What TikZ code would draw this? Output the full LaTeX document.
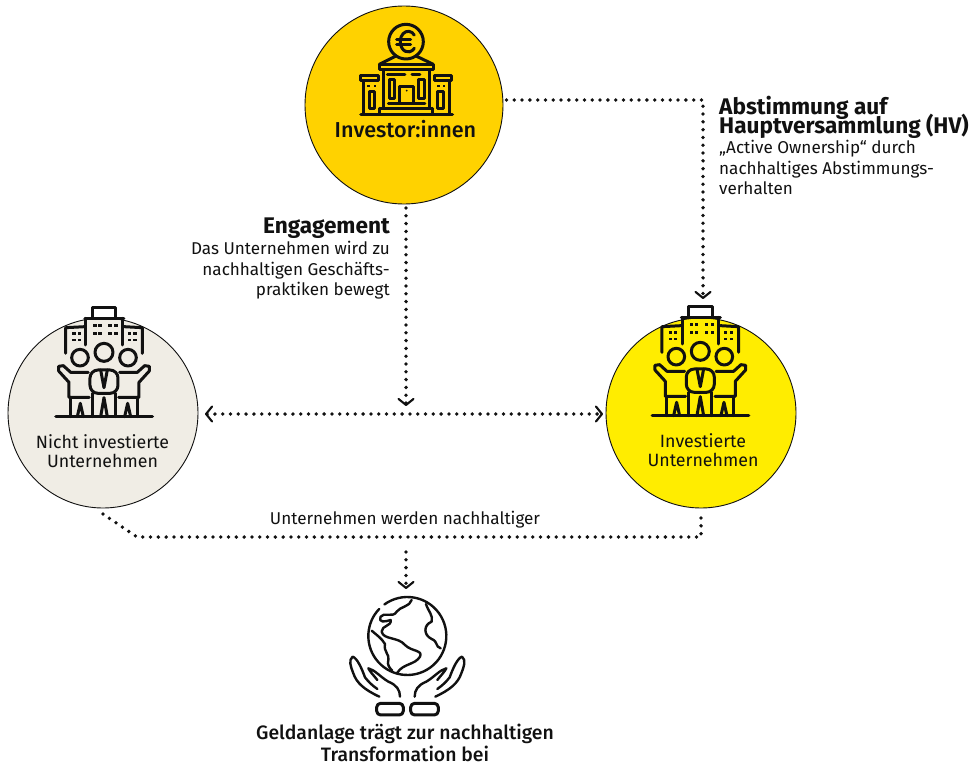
\documentclass[tikz,border=0pt]{standalone}
\usepackage{fontspec}
\setmainfont{Fira Sans}
\newfontfamily\medf{Fira Sans Medium}
\usetikzlibrary{arrows.meta,calc}
\definecolor{gold}{HTML}{FFD200}
\definecolor{lemon}{HTML}{FFED00}
\definecolor{sand}{HTML}{F0EDE5}
\definecolor{ink}{HTML}{111111}
\newcommand{\tightlines}{\setlength{\lineskiplimit}{-20pt}}
\tikzset{
  x=1pt,y=-1pt,
  disc/.style={circle,draw=ink,line width=0.9pt,inner sep=0pt},
  dotline/.style={ink,line width=3.8pt,line cap=round,dash pattern=on 0pt off 7.8pt},
  chev/.style={-{Straight Barb[length=6pt,width=15pt,line width=2.1pt,round]}},
  chevs/.style={{Straight Barb[length=6pt,width=15pt,line width=2.1pt,round]}-{Straight Barb[length=6pt,width=15pt,line width=2.1pt,round]}},
  icon/.style={ink,line width=2.4pt,line cap=round,line join=round},
  iconb/.style={ink,line width=3pt,line cap=round,line join=round},
  lbl/.style={inner sep=0pt,text=ink,font=\fontsize{17.1}{20.5}\selectfont\tightlines},
  head/.style={inner sep=0pt,text=ink,font=\fontsize{22.6}{19}\selectfont\bfseries\tightlines},
  disctext/.style={inner sep=0pt,text=ink,align=center,font=\fontsize{17.8}{19.5}\selectfont\tightlines},
}
\newcommand{\peopleicon}[2]{%
\begin{scope}[shift={(#1,#2)},x=0.3333pt,y=-0.3333pt]
 \draw[iconb] (277,68)--(277,38)--(348,38)--(348,68);
 \draw[iconb] (255,70)--(372,70);
 \draw[iconb] (258,70)--(258,150) (368,70)--(368,150);
 \draw[iconb] (255,95)--(197,98)--(197,175);
 \draw[iconb] (372,95)--(427,98)--(427,175);
 \foreach \a/\b in {285/92,300/92,285/115,300/115,330/92,348/92,330/115,348/115,222/115,238/115,222/135,238/135,388/115,405/115,388/135,405/135}
   \fill[ink] (\a-5,\b-4) rectangle (\a+5,\b+4);
 \draw[iconb] (240,188) circle[radius=25];
 \draw[iconb] (312,172) circle[radius=27];
 \draw[iconb] (384,188) circle[radius=25];
 % side figures
 \draw[iconb] (265,232)--(212,232)--(190,212)--(176,214)--(176,228)--(207,262)--(207,307)--(268,307);
 \draw[iconb] (359,232)--(412,232)--(434,212)--(448,214)--(448,228)--(417,262)--(417,307)--(356,307);
 \draw[iconb] (212,307)--(212,365) (412,307)--(412,365);
 \draw[iconb] (232,365)--(241,325)--(250,365);
 \draw[iconb] (374,365)--(383,325)--(392,365);
 % centre figure
 \draw[iconb,rounded corners=8pt] (270,295) rectangle (354,225);
 \draw[iconb] (302,225)--(312,278)--(322,225);
 \draw[iconb] (278,295)--(278,365) (346,295)--(346,365);
 \draw[iconb] (302,365)--(312,308)--(322,365);
 \draw[ink,line width=3.6pt,line cap=round] (168,365)--(457,365);
\end{scope}}
\begin{document}
\begin{tikzpicture}
\useasboundingbox (0,0) rectangle (973,765);
\fill[white] (0,0) rectangle (973,765);

% discs
\node[disc,fill=gold,minimum size=198pt] (inv) at (404,105) {};
\node[disc,fill=sand,minimum size=190pt] (nicht) at (103,413) {};
\node[disc,fill=lemon,minimum size=190pt] (inves) at (701,413) {};

% bank icon
\begin{scope}[shift={(300,0)},x=0.3333pt,y=-0.3333pt]
 \draw[iconb] (318,125) circle[radius=52];
 \draw[iconb] (343,105) arc[start angle=-40,end angle=-320,x radius=24,y radius=31];
 \draw[iconb] (290,118)--(332,118) (290,134)--(332,134);
 \draw[iconb] (238,193)--(288,168) (348,168)--(400,193);
 \draw[iconb] (238,193) rectangle (402,210);
 \draw[iconb] (250,210)--(250,325) (388,210)--(388,325);
 \draw[iconb] (183,226) rectangle (237,243);
 \draw[iconb] (403,226) rectangle (456,243);
 \draw[iconb] (190,243)--(190,343) (450,243)--(450,343);
 \draw[iconb] (208,275) rectangle (225,325);
 \draw[iconb] (412,275) rectangle (430,325);
 \draw[iconb] (268,240) rectangle (285,295);
 \draw[iconb] (355,240) rectangle (375,295);
 \draw[iconb] (298,310)--(298,260)--(340,260)--(340,310);
 \fill[ink] (320,272) circle[radius=3];
 \draw[iconb] (265,310)--(375,310) (240,325)--(398,325) (240,325)--(240,343) (398,325)--(398,343);
 \draw[iconb] (262,225)--(315,225) (336,225)--(360,225);
 \foreach \a in {205,225,415,432} \fill[ink] (\a-4,254) rectangle (\a+4,262);
 \draw[ink,line width=3.6pt,line cap=round] (183,343)--(457,343);
\end{scope}

\peopleicon{0}{295}
\peopleicon{596.3}{294}

% globe and hands
\begin{scope}[shift={(320,540)},x=0.3333pt,y=-0.3333pt]
 \draw[icon] (262,288) ++(234:117) arc[start angle=234,end angle=584,radius=117];
 \draw[icon] (275,180) .. controls (270,200) and (240,200) .. (230,215) .. controls (220,235) and (190,215) .. (182,230) .. controls (175,250) and (195,245) .. (212,240) .. controls (215,260) and (185,255) .. (185,275) .. controls (190,300) and (235,290) .. (255,315) .. controls (275,335) and (310,330) .. (300,350) .. controls (285,375) and (250,370) .. (232,398);
 \draw[icon] (155,272) .. controls (170,285) and (185,295) .. (195,312) .. controls (190,335) and (210,345) .. (205,360) .. controls (200,375) and (210,385) .. (217,392);
 \draw[icon] (318,192) .. controls (325,215) and (340,225) .. (335,245) .. controls (310,255) and (310,285) .. (335,297) .. controls (355,305) and (345,320) .. (362,325);
 \draw[icon] (178,470) .. controls (135,450) and (110,430) .. (100,400) .. controls (92,380) and (85,360) .. (98,350) .. controls (112,355) and (125,385) .. (135,412) .. controls (145,425) and (155,435) .. (172,447);
 \draw[icon] (172,420) .. controls (160,405) and (150,395) .. (145,385) .. controls (165,390) and (180,410) .. (205,425) .. controls (230,435) and (240,450) .. (240,470);
 \draw[icon] (346,470) .. controls (389,450) and (414,430) .. (424,400) .. controls (432,380) and (439,360) .. (426,350) .. controls (412,355) and (399,385) .. (389,412) .. controls (379,425) and (369,435) .. (352,447);
 \draw[icon] (352,420) .. controls (364,405) and (374,395) .. (379,385) .. controls (359,390) and (344,410) .. (319,425) .. controls (294,435) and (284,450) .. (284,470);
 \draw[iconb,rounded corners=4pt] (170,490) rectangle (250,525);
 \draw[iconb,rounded corners=4pt] (272,490) rectangle (355,525);
\end{scope}

% disc texts
\node[inner sep=0pt,text=ink,font=\medf\fontsize{21.6}{24}\selectfont] (tinv) at (405.5,129) {Investor:innen};
\node[disctext] (tnicht) at (102.5,451) {Nicht investierte\\Unternehmen};
\node[disctext] (tinves) at (703,450) {Investierte\\Unternehmen};

% labels
\node[head,anchor=base east] (eng) at (390,233) {Engagement};
\node[lbl,anchor=north east,align=right] (engtxt) at (390,241) {Das Unternehmen wird zu\\nachhaltigen Geschäfts-\\praktiken bewegt};
\node[head,anchor=north west,align=left] (abst) at (719,95.5) {Abstimmung auf\\Hauptversammlung (HV)};
\node[lbl,anchor=north west,align=left] (absttxt) at (719,140) {„Active Ownership“ durch\\nachhaltiges Abstimmungs-\\verhalten};
\node[lbl] (unw) at (405,520) {Unternehmen werden nachhaltiger};
\node[disctext,font=\medf\fontsize{19.4}{21.5}\selectfont\tightlines] (geld) at (405,743) {Geldanlage trägt zur nachhaltigen\\Transformation bei};

% connectors
\coordinate (c1) at (inv.east |- 0,100);
\coordinate (c2) at (703,100);
\coordinate (c3) at (703,299);
\coordinate (c4) at (406,208);
\coordinate (c5) at (406,406);
\coordinate (c6) at (205,414);
\coordinate (c7) at (603,414);
\coordinate (c8) at (103,514);
\coordinate (c9) at (137,537);
\coordinate (c10) at (701,537);
\coordinate (c11) at (701,512);
\coordinate (c12) at (406,552);
\coordinate (c13) at (406,589);
\draw[dotline,chev] ($(c1)+(3,0)$) -- (c2) -- (c3);
\draw[dotline,chev] (c4) -- (c5);
\draw[dotline,chevs] (c6) -- (c7);
\draw[dotline] (c8) -- (c9) -- (c10) -- (c11);
\draw[dotline,chev] (c12) -- (c13);
\end{tikzpicture}
\end{document}
